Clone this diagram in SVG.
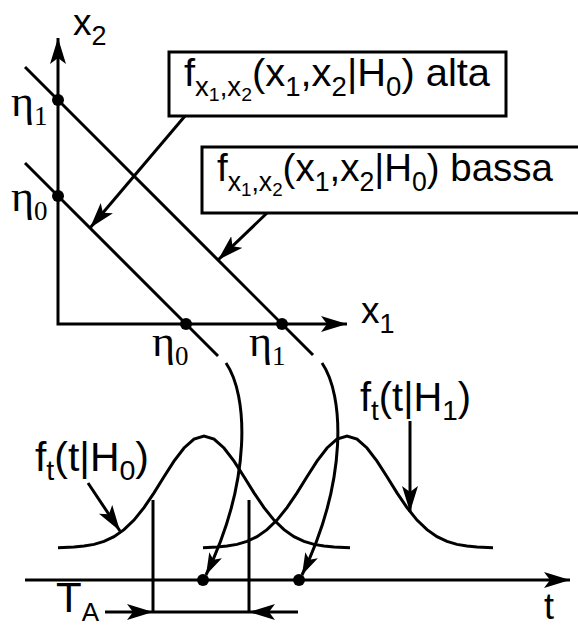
<svg xmlns="http://www.w3.org/2000/svg" width="578" height="626" viewBox="0 0 578 626">
<style>
.ln{fill:none;stroke:#000;stroke-width:3}
.dot{fill:#000}
.box{fill:#fff;stroke:#000;stroke-width:3}
.sans{font-family:"Liberation Sans",Arial,sans-serif;fill:#000}
.serif{font-family:"Liberation Serif","Times New Roman",serif;fill:#000}
.m{font-size:39px}
.s{font-size:27px}
.ss{font-size:19px}
</style>
<defs>
<marker id="ah" viewBox="0 0 26 16" refX="26" refY="8" markerWidth="26" markerHeight="16" orient="auto-start-reverse" markerUnits="userSpaceOnUse"><path d="M0,0 L26,8 L0,16 L6,8 Z" fill="#000"/></marker>
<marker id="ahs" viewBox="0 0 22 14" refX="22" refY="7" markerWidth="22" markerHeight="14" orient="auto" markerUnits="userSpaceOnUse"><path d="M0,0 L22,7 L0,14 L5,7 Z" fill="#000"/></marker>
</defs>

<g id="axes">
<path class="ln" d="M58,38 L58,324 L347,324" marker-start="url(#ah)" marker-end="url(#ah)"/>
<path class="ln" d="M25,580 L570,580" marker-end="url(#ah)"/>
</g>

<g id="lines">
<line class="ln" x1="25" y1="67" x2="313" y2="355"/>
<line class="ln" x1="25" y1="163" x2="218" y2="356"/>
</g>

<g id="dots">
<circle class="dot" cx="58" cy="100" r="6"/>
<circle class="dot" cx="58" cy="196" r="6"/>
<circle class="dot" cx="186" cy="324" r="6"/>
<circle class="dot" cx="282" cy="324" r="6"/>
<circle class="dot" cx="203" cy="580" r="6"/>
<circle class="dot" cx="299" cy="580" r="6"/>
</g>

<g id="gauss-h0">
<polyline class="ln" points="58,547.8 74,547.1 84,546.1 94,544.4 104,541.4 114,536.7 124,529.7 134,520.1 144,507.6 154,492.9 164,476.8 174,461.2 184,448 194,439.1 204,436 214,439.1 224,448 234,461.2 244,476.8 254,492.9 264,507.6 274,520.1 284,529.7 294,536.7 304,541.4 314,544.4 324,546.1 334,547.1 350,547.8"/>
</g>
<g id="gauss-h1">
<polyline class="ln" points="203,547.8 217,547.1 227,546.1 237,544.4 247,541.4 257,536.7 267,529.7 277,520.1 287,507.6 297,492.9 307,476.8 317,461.2 327,448 337,439.1 347,436 357,439.1 367,448 377,461.2 387,476.8 397,492.9 407,507.6 417,520.1 427,529.7 437,536.7 447,541.4 457,544.4 467,546.1 477,547.1 493,547.8"/>
</g>

<g id="ta-bracket">
<line class="ln" x1="153" y1="500" x2="153" y2="612"/>
<line class="ln" x1="249" y1="500" x2="249" y2="612"/>
<line class="ln" x1="153" y1="612" x2="249" y2="612"/>
<line class="ln" x1="105" y1="612" x2="153" y2="612" marker-end="url(#ah)"/>
<line class="ln" x1="298" y1="612" x2="249" y2="612" marker-end="url(#ah)"/>
</g>

<g id="box-alta">
<rect class="box" x="169" y="52" width="337" height="64"/>
<text class="sans m" x="184" y="86" textLength="306" lengthAdjust="spacingAndGlyphs">f<tspan class="s" dy="10">x</tspan><tspan class="ss" dy="5">1</tspan><tspan class="s" dy="-5">,x</tspan><tspan class="ss" dy="5">2</tspan><tspan dy="-15">(x</tspan><tspan class="s" dy="10">1</tspan><tspan dy="-10">,x</tspan><tspan class="s" dy="10">2</tspan><tspan dy="-10">|H</tspan><tspan class="s" dy="10">0</tspan><tspan dy="-10">) alta</tspan></text>
</g>

<g id="box-bassa">
<rect class="box" x="202" y="147" width="390" height="66"/>
<text class="sans m" x="217" y="181" textLength="336" lengthAdjust="spacingAndGlyphs">f<tspan class="s" dy="10">x</tspan><tspan class="ss" dy="5">1</tspan><tspan class="s" dy="-5">,x</tspan><tspan class="ss" dy="5">2</tspan><tspan dy="-15">(x</tspan><tspan class="s" dy="10">1</tspan><tspan dy="-10">,x</tspan><tspan class="s" dy="10">2</tspan><tspan dy="-10">|H</tspan><tspan class="s" dy="10">0</tspan><tspan dy="-10">) bassa</tspan></text>
</g>

<g id="labels">
<text class="sans" x="73" y="35" font-size="37">x<tspan font-size="27" dy="10">2</tspan></text>
<text class="sans" x="361" y="323" font-size="37">x<tspan font-size="27" dy="10">1</tspan></text>
<text class="serif" x="11" y="116" font-size="44">η<tspan font-size="27" dy="9">1</tspan></text>
<text class="serif" x="11" y="211" font-size="44">η<tspan font-size="27" dy="9">0</tspan></text>
<text class="serif" x="152" y="356" font-size="44">η<tspan font-size="27" dy="9">0</tspan></text>
<text class="serif" x="249" y="356" font-size="44">η<tspan font-size="27" dy="9">1</tspan></text>
<text class="sans" x="35" y="471" font-size="40" textLength="114" lengthAdjust="spacingAndGlyphs">f<tspan font-size="28" dy="9">t</tspan><tspan dy="-9">(t|H</tspan><tspan font-size="28" dy="9">0</tspan><tspan dy="-9">)</tspan></text>
<text class="sans" x="360" y="411" font-size="40" textLength="111" lengthAdjust="spacingAndGlyphs">f<tspan font-size="28" dy="9">t</tspan><tspan dy="-9">(t|H</tspan><tspan font-size="28" dy="9">1</tspan><tspan dy="-9">)</tspan></text>
<text class="sans" x="56" y="612" font-size="42">T<tspan font-size="26" dy="9">A</tspan></text>
<text class="sans" x="544" y="619" font-size="36">t</text>
</g>

<g id="connectors">
<line class="ln" x1="185" y1="116" x2="90" y2="228" marker-end="url(#ah)"/>
<line class="ln" x1="267" y1="213" x2="218" y2="260" marker-end="url(#ah)"/>
<line class="ln" x1="88" y1="483" x2="120" y2="531" marker-end="url(#ah)"/>
<line class="ln" x1="410" y1="421" x2="410" y2="512" marker-end="url(#ah)"/>
<path class="ln" d="M226,363 C248,395 252,480 206,575" marker-end="url(#ahs)"/>
<path class="ln" d="M322,363 C344,395 348,480 302,575" marker-end="url(#ahs)"/>
</g>
</svg>
